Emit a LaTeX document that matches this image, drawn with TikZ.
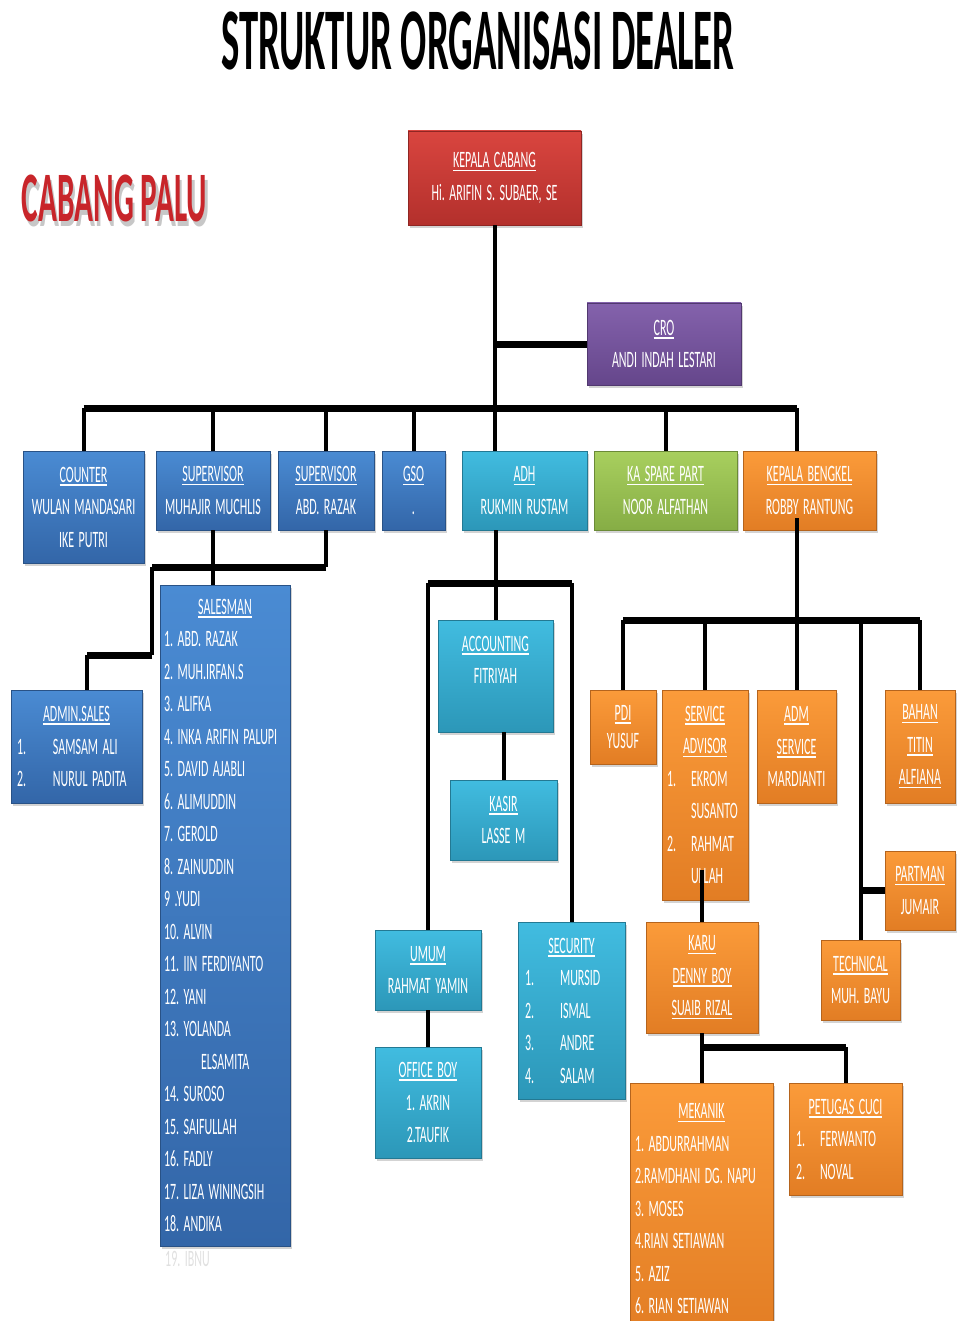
\documentclass[tikz,border=0pt]{standalone}
\usepackage{fontspec}
\setmainfont{Carlito}[FakeStretch=0.51]
\newfontfamily\titlefont{Carlito}[FakeStretch=0.44]
\usetikzlibrary{shadows}

\definecolor{bluetop}{HTML}{4A8BD3}
\definecolor{bluebot}{HTML}{3366A8}
\definecolor{aquatop}{HTML}{41BCE0}
\definecolor{aquabot}{HTML}{2C97B8}
\definecolor{greentop}{HTML}{A8CF5E}
\definecolor{greenbot}{HTML}{86AD45}
\definecolor{orangetop}{HTML}{FB9B3A}
\definecolor{orangebot}{HTML}{E27D24}
\definecolor{redtop}{HTML}{D9453F}
\definecolor{redbot}{HTML}{B3302C}
\definecolor{purpletop}{HTML}{8462AC}
\definecolor{purplebot}{HTML}{65468B}
\definecolor{palured}{HTML}{C8252A}

\newcommand{\undl}[1]{\setbox0\hbox{#1}\rlap{\rule[-3.5pt]{\wd0}{1.6pt}}\box0}
\newcommand{\midhd}[1]{\makebox[\hsize][c]{\undl{#1}}}
\newcommand{\nr}[3][36pt]{\makebox[#1][l]{#2}#3}
\newcommand{\boxfont}{\fontsize{23.5}{32.5}\selectfont\frenchspacing\spaceskip=4.5pt plus 1pt\relax}
\newcommand{\tightfont}{\fontsize{23.5}{28}\selectfont\frenchspacing\spaceskip=4.5pt plus 1pt\relax}

\begin{document}
\begin{tikzpicture}[x=1pt,y=-1pt,
  unit/.style={rectangle,inner sep=0pt,text=white,align=center,font=\boxfont,
    drop shadow={opacity=0.35,shadow xshift=2pt,shadow yshift=-3pt}},
  blueunit/.style={unit,top color=bluetop,bottom color=bluebot,draw=bluebot!80!black},
  aquaunit/.style={unit,top color=aquatop,bottom color=aquabot,draw=aquabot!80!black},
  greenunit/.style={unit,top color=greentop,bottom color=greenbot,draw=greenbot!80!black},
  orangeunit/.style={unit,top color=orangetop,bottom color=orangebot,draw=orangebot!80!black},
  redunit/.style={unit,top color=redtop,bottom color=redbot,draw=redbot!80!black},
  purpleunit/.style={unit,top color=purpletop,bottom color=purplebot,draw=purplebot!80!black},
  list/.style={align=flush left,text width=#1},
  link/.style={line width=4pt},
  bar/.style={line width=7pt}]
\useasboundingbox (0,0) rectangle (957,1321);

% titles
\node[font=\titlefont\bfseries\fontsize{88}{88}\selectfont,anchor=base] (title) at (478,70) {STRUKTUR ORGANISASI DEALER};
\node[font=\titlefont\bfseries\fontsize{71}{71}\selectfont,text=palured,anchor=base] (palu) at (114.5,222)
  {\rlap{\textcolor{black!22}{\hspace*{2.5pt}\raisebox{-5pt}{CABANG PALU}}}CABANG PALU};

% top
\node[redunit,minimum width=173,minimum height=94] (kc) at (494.5,178) {\undl{KEPALA CABANG}\\Hi. ARIFIN S. SUBAER, SE};
\node[purpleunit,minimum width=154,minimum height=82] (cro) at (664,344) {\undl{CRO}\\ANDI INDAH LESTARI};

% second row
\node[blueunit,minimum width=121,minimum height=112] (counter) at (83.5,507) {\undl{COUNTER}\\WULAN MANDASARI\\IKE PUTRI};
\node[blueunit,minimum width=114,minimum height=79] (supa) at (213,490.5) {\undl{SUPERVISOR}\\MUHAJIR MUCHLIS};
\node[blueunit,minimum width=96,minimum height=79] (supb) at (326,490.5) {\undl{SUPERVISOR}\\ABD. RAZAK};
\node[blueunit,minimum width=63,minimum height=79] (gso) at (413.5,490.5) {\undl{GSO}\\.};
\node[aquaunit,minimum width=125,minimum height=79] (adh) at (524.5,490.5) {\undl{ADH}\\RUKMIN RUSTAM};
\node[greenunit,minimum width=143,minimum height=79] (ksp) at (665.5,490.5) {\undl{KA SPARE PART}\\NOOR ALFATHAN};
\node[orangeunit,minimum width=133,minimum height=79] (kb) at (809.5,490.5) {\undl{KEPALA BENGKEL}\\ROBBY RANTUNG};

% sales
\node[blueunit,list=122,minimum width=130,minimum height=661] (salesman) at (225,915.5) {\midhd{SALESMAN}\\1. ABD. RAZAK\\2. MUH.IRFAN.S\\3. ALIFKA\\4. INKA ARIFIN PALUPI\\5. DAVID AJABLI\\6. ALIMUDDIN\\7. GEROLD\\8. ZAINUDDIN\\9 .YUDI\\10. ALVIN\\11. IIN FERDIYANTO\\12. YANI\\13. YOLANDA\\\hspace*{37pt}ELSAMITA\\14. SUROSO\\15. SAIFULLAH\\16. FADLY\\17. LIZA WININGSIH\\18. ANDIKA};
\node[font=\boxfont,text=black!12,anchor=base west,inner sep=0pt] (ibnu) at (165,1266) {19. IBNU};
\node[blueunit,list=119,minimum width=131,minimum height=113] (admin) at (76.5,746.5) {\midhd{ADMIN.SALES}\\\nr{1.}{SAMSAM ALI}\\\nr{2.}{NURUL PADITA}};

% adh
\node[aquaunit,minimum width=115,minimum height=112] (acc) at (495.5,676) {\undl{ACCOUNTING}\\FITRIYAH\\~};
\node[aquaunit,minimum width=107,minimum height=80] (kasir) at (503.5,820) {\undl{KASIR}\\LASSE M};
\node[aquaunit,minimum width=106,minimum height=80] (umum) at (428,970) {\undl{UMUM}\\RAHMAT YAMIN};
\node[aquaunit,minimum width=106,minimum height=111] (ob) at (428,1102.5) {\undl{OFFICE BOY}\\1. AKRIN\\2.TAUFIK};
\node[aquaunit,list=93,minimum width=107,minimum height=177] (sec) at (571.5,1010.5) {\midhd{SECURITY}\\\nr[35pt]{1.}{MURSID}\\\nr[35pt]{2.}{ISMAL}\\\nr[35pt]{3.}{ANDRE}\\\nr[35pt]{4.}{SALAM}};

% bengkel
\node[orangeunit,minimum width=66,minimum height=74,font=\tightfont] (pdi) at (623,727) {\undl{PDI}\\YUSUF};
\node[orangeunit,list=76,minimum width=86,minimum height=210] (sa) at (705,795) {\midhd{SERVICE}\\\midhd{ADVISOR}\\\nr[24pt]{1.}{EKROM}\\\hspace*{24pt}SUSANTO\\\nr[24pt]{2.}{RAHMAT}\\\hspace*{24pt}ULLAH};
\node[orangeunit,minimum width=79,minimum height=113] (adms) at (796.5,746.5) {\undl{ADM}\\\undl{SERVICE}\\MARDIANTI};
\node[orangeunit,minimum width=70,minimum height=113] (bahan) at (920,746.5) {\undl{BAHAN}\\\undl{TITIN}\\\undl{ALFIANA}};
\node[orangeunit,minimum width=70,minimum height=79] (partman) at (920,890.5) {\undl{PARTMAN}\\JUMAIR};
\node[orangeunit,minimum width=79,minimum height=80] (tech) at (860.5,980) {\undl{TECHNICAL}\\MUH. BAYU};
\node[orangeunit,minimum width=112,minimum height=111] (karu) at (702,977.5) {\undl{KARU}\\\undl{DENNY BOY}\\\undl{SUAIB RIZAL}};
\node[orangeunit,list=133,minimum width=143,minimum height=252] (mek) at (701.5,1209) {\midhd{MEKANIK}\\1. ABDURRAHMAN\\2.RAMDHANI DG. NAPU\\3. MOSES\\4.RIAN SETIAWAN\\5. AZIZ\\6. RIAN SETIAWAN};
\node[orangeunit,list=99,minimum width=113,minimum height=112] (pc) at (845.5,1139) {\midhd{PETUGAS CUCI}\\\nr[24pt]{1.}{FERWANTO}\\\nr[24pt]{2.}{NOVAL}};

% lines from kepala cabang
\coordinate (bus) at (0,408);
\draw[link] (kc.south) -- (kc.south |- adh.north);
\draw[bar] (kc.south |- cro.west) -- (cro.west);
\draw[bar] (counter.north |- bus) -- (adms.north |- bus);
\foreach \b in {counter,supa,supb,gso,ksp}
\draw[link] (\b.north |- bus) -- (\b.north);
\draw[link] (adms.north |- bus) -- (adms.north |- kb.north);

% supervisors
\coordinate (sbus) at (0,567);
\coordinate (sleft) at (152,567);
\coordinate (adminbend) at (152,655);
\draw[link] (supa.south) -- (supa.south |- salesman.north);
\draw[link] (supb.south) -- (supb.south |- sbus);
\draw[bar] (supb.south |- sbus) -- (sleft);
\draw[link] (sleft) -- (adminbend);
\draw[bar] (adminbend) -- ([xshift=10pt]admin.north |- adminbend);
\draw[link] ([xshift=10pt]admin.north |- adminbend) -- ([xshift=10pt]admin.north);

% adh
\coordinate (abus) at (0,583);
\draw[link] (acc.north |- adh.south) -- (acc.north);
\draw[bar] (umum.north |- abus) -- (sec.north |- abus);
\draw[link] (umum.north |- abus) -- (umum.north);
\draw[link] (sec.north |- abus) -- (sec.north);
\draw[link] (kasir.north |- acc.south) -- (kasir.north);
\draw[link] (umum.south) -- (ob.north);

% bengkel
\coordinate (bbus) at (0,620);
\draw[link] ([yshift=12pt]kb.south -| adms.north) -- (adms.north);
\draw[bar] (pdi.north |- bbus) -- (bahan.north |- bbus);
\foreach \b in {pdi,sa,tech,bahan}
\draw[link] (\b.north |- bbus) -- (\b.north);
\draw[bar] (tech.north |- partman.west) -- (partman.west);
\draw[link] ([yshift=30pt]sa.south -| karu.north) -- (karu.north);
\coordinate (kbus) at (0,1047);
\draw[link] (karu.south) -- (karu.south |- mek.north);
\draw[bar] (karu.south |- kbus) -- (pc.north |- kbus);
\draw[link] (pc.north |- kbus) -- (pc.north);

\end{tikzpicture}
\end{document}
